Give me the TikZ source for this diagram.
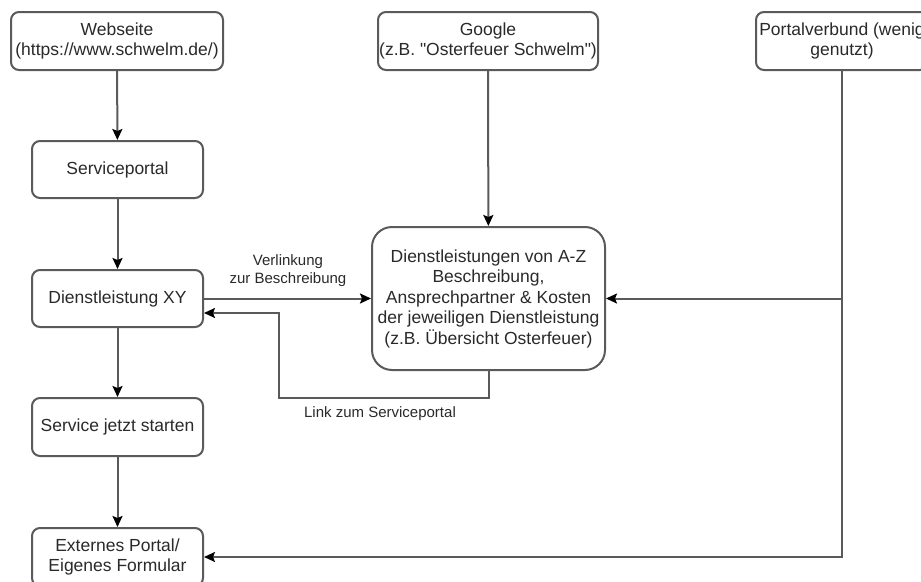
\documentclass[tikz,border=0pt]{standalone}
\usepackage{fontspec}
\setmainfont{Liberation Sans}
\usetikzlibrary{arrows.meta}
\definecolor{linec}{HTML}{5A5A5A}
\definecolor{textc}{HTML}{2A2A2A}
\tikzset{
  box/.style={draw=linec, line width=2pt, rounded corners=8pt, align=center,
    text=textc, inner sep=0pt, font=\fontsize{17.5}{20.5}\selectfont},
  conn/.style={draw=linec, line width=2pt,
    -{Stealth[length=11pt,width=10pt,inset=2pt,fill=black,color=black]}},
  lbl/.style={text=textc, align=center, inner sep=0pt, font=\fontsize{15}{18}\selectfont}
}
\begin{document}
\begin{tikzpicture}[x=1pt,y=-1pt]
\clip (0,0) rectangle (921,581);
\fill[white] (0,0) rectangle (921,581);
\node[box, minimum width=212pt, minimum height=58pt] (web) at (117,41) {Webseite\\(https://www.schwelm.de/)};
\node[box, minimum width=171pt, minimum height=57pt] (sp) at (117.5,169.5) {Serviceportal};
\node[box, minimum width=171pt, minimum height=57pt] (dxy) at (117.5,298.5) {Dienstleistung XY};
\node[box, minimum width=171pt, minimum height=58pt] (sjs) at (117.5,427) {Service jetzt starten};
\node[box, minimum width=171pt, minimum height=58pt] (ext) at (117.5,557) {Externes Portal/\\Eigenes Formular};
\node[box, minimum width=220pt, minimum height=58pt] (google) at (488,41) {Google\\(z.B. \textquotedbl Osterfeuer Schwelm\textquotedbl)};
\node[box, rounded corners=20pt, minimum width=233pt, minimum height=143pt] (dl) at (488.5,298.5) {Dienstleistungen von A-Z\\Beschreibung,\\Ansprechpartner \& Kosten\\der jeweiligen Dienstleistung\\(z.B. Übersicht Osterfeuer)};
\node[box, minimum width=172pt, minimum height=58pt] (pv) at (842,41) {Portalverbund (wenig\\genutzt)};

\draw[conn] (web) -- (sp);
\draw[conn] (sp) -- (dxy);
\draw[conn] (dxy) -- (sjs);
\draw[conn] (sjs) -- (ext);
\draw[conn] (google) -- (dl);
\draw[conn] (dxy.east) -- (dl.west);
\node[lbl] (l1) at (288,271) {Verlinkung\\zur Beschreibung};
\coordinate (rb) at (279,398);
\draw[conn] (dl.south) |- (rb) -- (279,313) -- (dxy.east |- 0,313);
\node[lbl] (l2) at (380,414) {Link zum Serviceportal};
\draw[conn] (pv.south) |- (ext.east);
\draw[conn] (pv.south) |- (dl.east);
\end{tikzpicture}
\end{document}
